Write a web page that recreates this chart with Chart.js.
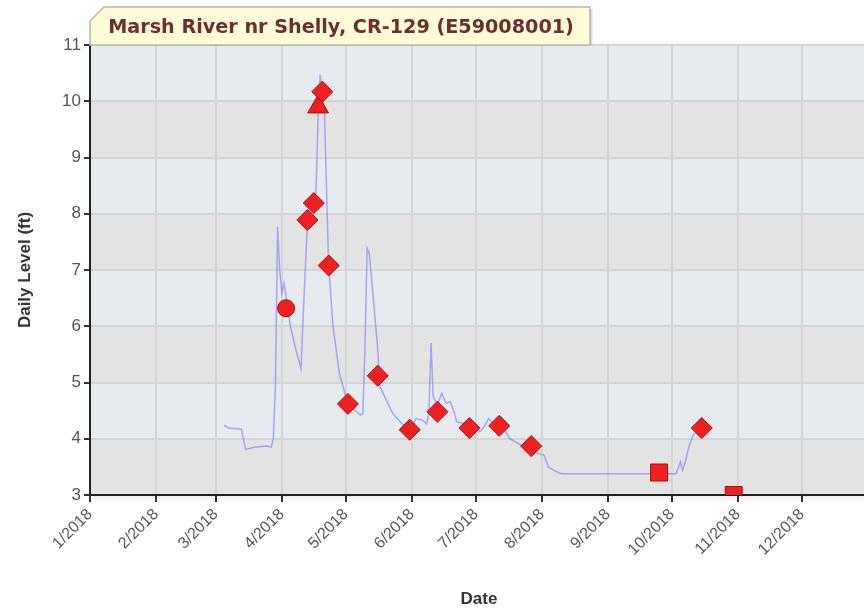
<!DOCTYPE html>
<html><head><meta charset="utf-8">
<script src="https://cdn.jsdelivr.net/npm/chart.js@4/dist/chart.umd.min.js"></script>
<style>
html,body{margin:0;padding:0;background:#fff;overflow:hidden;width:864px;height:614px}
#wrap{position:relative;width:881px;height:614px}
</style>
</head><body><div id="wrap"><canvas id="c" width="881" height="614"></canvas></div>
<script>
const chartTitle = 'Marsh River nr Shelly, CR-129 (E59008001)';
const yAxisTitle = 'Daily Level (ft)';
const xAxisTitle = 'Date';
const monthTickDates = ['2018-01-01','2018-02-01','2018-03-01','2018-04-01','2018-05-01','2018-06-01','2018-07-01','2018-08-01','2018-09-01','2018-10-01','2018-11-01','2018-12-01'];
const monthTickLabels = ['1/2018','2/2018','3/2018','4/2018','5/2018','6/2018','7/2018','8/2018','9/2018','10/2018','11/2018','12/2018'];
const yMin = 3, yMax = 11;

const levelDates = ['2018-03-05','2018-03-07','2018-03-13','2018-03-15','2018-03-19','2018-03-25','2018-03-27','2018-03-28','2018-03-29','2018-03-30','2018-03-31','2018-04-01','2018-04-02','2018-04-03','2018-04-05','2018-04-08','2018-04-10','2018-04-11','2018-04-13','2018-04-17','2018-04-18','2018-04-19','2018-04-21','2018-04-22','2018-04-23','2018-04-25','2018-04-28','2018-05-01','2018-05-02','2018-05-05','2018-05-08','2018-05-09','2018-05-10','2018-05-11','2018-05-12','2018-05-14','2018-05-16','2018-05-17','2018-05-20','2018-05-23','2018-05-27','2018-05-31','2018-06-03','2018-06-06','2018-06-08','2018-06-09','2018-06-10','2018-06-11','2018-06-13','2018-06-15','2018-06-17','2018-06-19','2018-06-21','2018-06-22','2018-06-25','2018-06-27','2018-06-30','2018-07-03','2018-07-05','2018-07-07','2018-07-10','2018-07-14','2018-07-17','2018-07-22','2018-07-27','2018-07-30','2018-08-02','2018-08-04','2018-08-07','2018-08-10','2018-10-03','2018-10-05','2018-10-06','2018-10-07','2018-10-09','2018-10-11','2018-10-14'];
const levelValues = [4.24,4.19,4.17,3.81,3.85,3.87,3.85,4.00,4.93,7.77,7.00,6.59,6.76,6.53,6.00,5.52,5.25,6.17,7.83,8.36,9.73,10.47,9.84,8.36,7.05,6.00,5.16,4.75,4.63,4.51,4.42,4.45,5.60,7.39,7.30,6.47,5.58,4.93,4.69,4.45,4.28,4.16,4.36,4.33,4.27,4.45,5.70,4.75,4.60,4.81,4.63,4.66,4.45,4.30,4.28,4.24,4.21,4.13,4.22,4.36,4.24,4.19,4.00,3.89,3.83,3.74,3.71,3.50,3.43,3.38,3.38,3.59,3.44,3.55,3.86,4.07,4.19];

const sampleDates = ['2018-04-03','2018-04-13','2018-04-16','2018-04-18','2018-04-20','2018-04-23','2018-05-02','2018-05-16','2018-05-31','2018-06-13','2018-06-28','2018-07-12','2018-07-27','2018-09-25','2018-10-15','2018-10-30'];
const sampleValues = [6.32,7.89,8.19,9.90,10.17,7.08,4.62,5.12,4.16,4.48,4.19,4.23,3.87,3.40,4.19,3.00];
const sampleShapes = ['circle','diamond','diamond','triangle','diamond','diamond','diamond','diamond','diamond','diamond','diamond','diamond','diamond','square','diamond','square'];

const T0 = Date.UTC(2018,0,1);
function dayOf(iso){ const p = iso.split('-').map(Number); return (Date.UTC(p[0],p[1]-1,p[2]) - T0)/86400000; }
const tickDays = monthTickDates.map(dayOf);

const shapeStyle = {
  triangle: {pointStyle:'triangle', radius:12, order:5},
  circle:   {pointStyle:'circle', radius:8.5, order:4},
  square:   {pointStyle:'rect', radius:12, order:3},
  diamond:  {pointStyle:'rectRot', radius:10.5, order:1}
};
const markerSets = ['triangle','circle','square','diamond'].map(shape => ({
  type:'line', showLine:false, label: shape,
  data: sampleDates.map((d,i)=>({x:dayOf(d), y:sampleValues[i], s:sampleShapes[i]})).filter(p=>p.s===shape),
  pointStyle: shapeStyle[shape].pointStyle,
  pointRadius: shapeStyle[shape].radius,
  pointBackgroundColor:'#f02020', pointBorderColor:'#a50f0f', pointBorderWidth:1,
  order: shapeStyle[shape].order, clip: 0
}));

const bandsPlugin = {
  id:'bands',
  beforeDraw(chart){
    const {ctx, chartArea:a, scales:{y}} = chart;
    ctx.save();
    for(let v=yMin; v<yMax; v++){
      const top = y.getPixelForValue(v+1), bot = y.getPixelForValue(v);
      ctx.fillStyle = (v % 2 === 0) ? '#e7eaee' : '#e3e3e4';
      ctx.fillRect(a.left, top, a.right-a.left, bot-top);
    }
    const g = ctx.createLinearGradient(0, a.bottom, 0, a.bottom+8);
    g.addColorStop(0,'rgba(0,0,0,0.07)'); g.addColorStop(1,'rgba(0,0,0,0)');
    ctx.fillStyle = g; ctx.fillRect(a.left+4, a.bottom, a.right-a.left, 8);
    ctx.restore();
  }
};

const titlePlugin = {
  id:'titleBox',
  afterDraw(chart){
    const ctx = chart.ctx;
    const L = 90, R = 590, T = 7, B = 45, C = 14;
    ctx.save();
    ctx.beginPath();
    ctx.moveTo(L, B); ctx.lineTo(L, T+C); ctx.lineTo(L+C, T); ctx.lineTo(R, T); ctx.lineTo(R, B);
    ctx.closePath();
    ctx.fillStyle = '#fffcd7'; ctx.fill();
    ctx.strokeStyle = '#b5b5ad'; ctx.lineWidth = 1.5; ctx.stroke();
    ctx.strokeStyle = 'rgba(0,0,0,0.12)'; ctx.lineWidth = 2;
    ctx.beginPath(); ctx.moveTo(R+1.5, T+2); ctx.lineTo(R+1.5, B); ctx.stroke();
    let size = 16;
    ctx.font = 'bold '+size+'px "DejaVu Sans", Verdana, sans-serif';
    const w = ctx.measureText(chartTitle).width;
    size = size * 466 / w;
    ctx.font = 'bold '+size.toFixed(2)+'px "DejaVu Sans", Verdana, sans-serif';
    ctx.fillStyle = '#6b3030'; ctx.textAlign = 'center'; ctx.textBaseline = 'middle';
    ctx.fillText(chartTitle, 341, 28);
    ctx.restore();
  }
};

new Chart(document.getElementById('c'), {
  type:'line',
  data:{ datasets:[
    ...markerSets,
    { label:'Daily Level', data: levelDates.map((d,i)=>({x:dayOf(d), y:levelValues[i]})),
      borderColor:'rgba(120,120,255,0.6)', borderWidth:1.5, pointRadius:0, tension:0, fill:false, order:10 }
  ]},
  options:{
    responsive:false, animation:false, devicePixelRatio:1,
    layout:{ padding:{ top:45, right:0, left:0, bottom:0 } },
    plugins:{ legend:{display:false}, tooltip:{enabled:false}, title:{display:false} },
    scales:{
      x:{ type:'linear', min:0, max:365,
        afterBuildTicks(s){ s.ticks = tickDays.map(v=>({value:v})); },
        afterFit(s){ s.height = 119; },
        ticks:{ autoSkip:false, maxRotation:45, minRotation:45, padding:3, color:'#555',
          font:{family:'"Liberation Sans", Arial, sans-serif', size:16},
          callback(v){ const i = tickDays.indexOf(v); return i>=0 ? monthTickLabels[i] : ''; } },
        grid:{ color:'#d5d5d5', lineWidth:2, tickColor:'#333', tickWidth:2, tickLength:7 },
        border:{ color:'#222', width:2 },
        title:{ display:true, text:xAxisTitle, color:'#333', padding:{top:0,bottom:4},
          font:{family:'"Liberation Sans", Arial, sans-serif', size:17, weight:'bold'} }
      },
      y:{ type:'linear', min:yMin, max:yMax,
        afterFit(s){ s.width = 90; },
        ticks:{ stepSize:1, padding:3, color:'#555',
          font:{family:'"Liberation Sans", Arial, sans-serif', size:17} },
        grid:{ color:'#d5d5d5', lineWidth:2, tickColor:'#333', tickWidth:2, tickLength:6 },
        border:{ color:'#222', width:2 },
        title:{ display:true, text:yAxisTitle, color:'#333', padding:{top:15,bottom:0},
          font:{family:'"Liberation Sans", Arial, sans-serif', size:17, weight:'bold'} }
      }
    }
  },
  plugins:[bandsPlugin, titlePlugin]
});
</script>
</body></html>
